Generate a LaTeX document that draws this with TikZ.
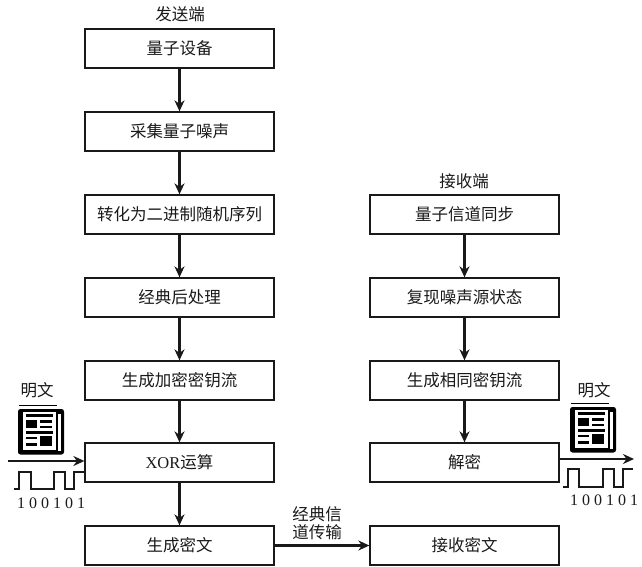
\documentclass[tikz,border=0pt]{standalone}
\usepackage{fontspec}
\setmainfont{Noto Sans CJK SC}
\newfontfamily\latinfont{Liberation Serif}
\usetikzlibrary{arrows.meta}
\tikzset{
  boxnode/.style={draw=black!90,line width=1.3pt,minimum width=189pt,minimum height=39pt,inner sep=0pt,font=\fontsize{16.5}{17}\selectfont,anchor=center,text=black!90},
  flow/.style={draw=black!90,line width=2.2pt,-{Stealth[length=11pt,width=10pt]}},
  pulse/.style={draw=black!90,line width=1.3pt},
  lbl/.style={font=\fontsize{16.5}{18}\selectfont,inner sep=0pt,align=center,text=black!90},
  bits/.style={font=\latinfont\fontsize{16}{16}\selectfont,inner sep=0pt,text=black!90},
}
\newcommand{\papericon}[2]{%
  \begin{scope}[shift={(#1,#2)}]
    \draw[line width=1.6pt] (0,0) -- (38,0);
    \fill[black,rounded corners=2.5pt] (-1,3.5) rectangle (45,49);
    \fill[white] (4,6.5) rectangle (36.5,44.5);
    \fill[white] (38.5,8) rectangle (42,45);
    \fill[black] (7,8.5) rectangle (33.5,11.5);
    \fill[black] (7,14.5) rectangle (18,22.5);
    \fill[black] (20.5,14.5) rectangle (33,17);
    \fill[black] (20.5,20) rectangle (33,22.5);
    \fill[black] (7,25.5) rectangle (33.5,28);
    \fill[black] (7,31) rectangle (18,33.5);
    \fill[black] (7,37.5) rectangle (18,40);
    \fill[black] (20.5,30.5) rectangle (33,40.5);
  \end{scope}}
\begin{document}
\begin{tikzpicture}[x=1pt,y=-1pt]
\useasboundingbox (0,0) rectangle (642,567);
\node[boxnode] (a1) at (179.5,48.5) {量子设备};
\node[boxnode] (a2) at (179.5,131.5) {采集量子噪声};
\node[boxnode] (a3) at (179.5,214.5) {转化为二进制随机序列};
\node[boxnode] (a4) at (179.5,297.5) {经典后处理};
\node[boxnode] (a5) at (179.5,380.5) {生成加密密钥流};
\node[boxnode] (a6) at (179.5,462.5) {{\latinfont XOR}运算};
\node[boxnode] (a7) at (179.5,545.5) {生成密文};
\node[boxnode] (b1) at (464.5,214.5) {量子信道同步};
\node[boxnode] (b2) at (464.5,297.5) {复现噪声源状态};
\node[boxnode] (b3) at (464.5,380.5) {生成相同密钥流};
\node[boxnode] (b4) at (464.5,462.5) {解密};
\node[boxnode] (b5) at (464.5,545.5) {接收密文};
\node[lbl] (t1) at (180,14) {发送端};
\node[lbl] (t2) at (464,181) {接收端};
\node[lbl] (m1) at (37,390) {明文};
\node[lbl] (m2) at (594,390) {明文};
\node[lbl] (c) at (317,523) {经典信\\道传输};
\foreach \u/\v in {a1/a2,a2/a3,a3/a4,a4/a5,a5/a6,a6/a7,b1/b2,b2/b3,b3/b4,a7/b5} \draw[flow] (\u) -- (\v);
\coordinate (inL) at (8,461);
\coordinate (outR) at (634,459);
\draw[flow] (inL) -- (inL -| a6.west);
\draw[flow] (outR -| b4.east) -- (outR);
\papericon{19}{405.5}
\papericon{571}{403.5}
\draw[pulse] (14,489) -- (19,489) -- (19,472) -- (31,472) -- (31,489) -- (54,489) -- (54,472) -- (65,472) -- (65,489) -- (74,489) -- (74,472) -- (85,472);
\draw[pulse] (563,487) -- (568,487) -- (568,469) -- (579,469) -- (579,487) -- (603,487) -- (603,469) -- (614,469) -- (614,487) -- (623,487) -- (623,469) -- (633,469);
\node[bits] (d1) at (51,503) {1 0 0 1 0 1};
\node[bits] (d2) at (604,500) {1 0 0 1 0 1};
\end{tikzpicture}
\end{document}
